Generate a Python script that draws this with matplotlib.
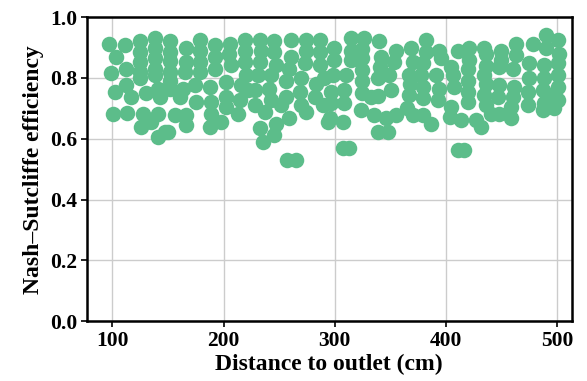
import numpy as np
import matplotlib
matplotlib.use("Agg")
import matplotlib.pyplot as plt

# Distance to outlet (cm) and Nash-Sutcliffe efficiency for each sample
distance = [
    96.6, 103.4, 98.4, 102.0, 100.4,
    111.5, 112.4, 112.4, 113.3, 116.9,
    124.4, 124.4, 124.4, 124.4, 125.0, 127.4, 125.9, 130.4,
    137.9, 137.9, 137.9, 137.9, 137.9, 140.9, 142.4, 140.9, 134.9, 140.9, 146.9,
    151.5, 151.5, 151.5, 151.5, 152.0, 152.0, 149.9, 155.9,
    166.3, 166.3, 163.3, 160.4, 166.3, 166.3, 165.0,
    178.3, 178.3, 178.3, 178.3, 173.9, 175.3,
    191.8, 191.8, 191.8, 187.3, 188.8, 188.8, 187.3, 197.8,
    205.3, 206.7, 202.2, 202.2, 202.2, 212.8, 215.7, 214.3, 205.0,
    218.8, 218.8, 218.8, 220.0, 222.0,
    232.3, 233.7, 232.3, 230.7, 227.8, 227.8, 236.8, 232.3, 235.3,
    256.8, 264.9,
    245.7, 245.7, 247.2, 242.7, 241.2, 242.7, 247.2, 245.7,
    260.6, 260.6, 259.2, 256.2, 256.2, 259.2, 251.7,
    274.1, 274.1, 272.7, 269.6, 268.2, 269.6, 274.1, 281.7, 283.1,
    286.2, 286.2, 286.2, 289.1, 293.6, 290.0,
    299.6, 299.6, 298.1, 296.6, 296.6, 295.2,
    307.1, 313.1,
    314.6, 314.6, 314.6, 310.1, 308.6, 308.6, 307.1,
    326.6, 324.2, 324.2, 324.2, 324.2, 324.2, 323.5, 335.6, 332.5,
    340.1, 341.5, 338.5, 346.0, 338.5, 347.5, 338.5, 341.0,
    355.0, 353.5, 349.1, 350.5, 355.0,
    368.5, 370.0, 367.0, 367.0, 370.0, 368.0, 365.0,
    382.0, 382.0, 379.0, 377.4, 379.0, 379.0, 379.0, 386.4,
    394.0, 395.4, 390.9, 394.0, 392.5,
    404.4, 403.3, 404.4, 407.5, 410.4, 416.4, 410.4, 406.0,
    420.9, 420.9, 419.3, 419.3, 419.3, 419.3, 413.4, 426.9, 431.4,
    434.4, 434.4, 434.4, 436.0, 436.0, 436.0, 436.0, 440.0,
    449.3, 449.3, 447.9, 447.9, 446.4, 447.9, 458.3,
    462.8, 462.8, 459.9, 461.4, 459.9, 458.3,
    477.8, 474.9, 474.9, 473.3, 473.3,
    489.8, 489.8, 488.3, 488.3, 486.8, 488.3, 486.8,
    500.3, 501.8, 500.3, 500.3, 500.3, 500.3, 497.3, 494.3,
]
nse = [
    0.913, 0.870, 0.815, 0.754, 0.683,
    0.910, 0.830, 0.776, 0.686, 0.738,
    0.920, 0.886, 0.853, 0.820, 0.800, 0.683, 0.640, 0.749,
    0.930, 0.900, 0.866, 0.830, 0.810, 0.765, 0.738, 0.683, 0.656, 0.606, 0.623,
    0.920, 0.886, 0.855, 0.820, 0.790, 0.765, 0.623, 0.678,
    0.900, 0.854, 0.765, 0.738, 0.678, 0.645, 0.820,
    0.924, 0.890, 0.854, 0.820, 0.776, 0.720,
    0.908, 0.870, 0.830, 0.770, 0.720, 0.683, 0.640, 0.656,
    0.913, 0.842, 0.787, 0.738, 0.705, 0.683, 0.776, 0.727, 0.880,
    0.924, 0.890, 0.853, 0.810, 0.760,
    0.924, 0.890, 0.853, 0.810, 0.760, 0.710, 0.689, 0.634, 0.590,
    0.530, 0.530,
    0.920, 0.886, 0.842, 0.810, 0.765, 0.727, 0.650, 0.612,
    0.924, 0.870, 0.830, 0.790, 0.738, 0.667, 0.710,
    0.924, 0.890, 0.848, 0.800, 0.754, 0.710, 0.689, 0.738, 0.780,
    0.924, 0.886, 0.842, 0.710, 0.656, 0.800,
    0.900, 0.858, 0.810, 0.754, 0.716, 0.667,
    0.568, 0.568,
    0.930, 0.890, 0.860, 0.810, 0.760, 0.716, 0.656,
    0.930, 0.896, 0.864, 0.827, 0.790, 0.750, 0.694, 0.678, 0.738,
    0.920, 0.870, 0.800, 0.667, 0.623, 0.623, 0.740, 0.835,
    0.890, 0.853, 0.810, 0.760, 0.678,
    0.900, 0.853, 0.810, 0.743, 0.678, 0.780, 0.700,
    0.924, 0.886, 0.848, 0.810, 0.770, 0.733, 0.678, 0.650,
    0.890, 0.864, 0.810, 0.765, 0.727,
    0.836, 0.672, 0.705, 0.770, 0.563, 0.563, 0.890, 0.810,
    0.900, 0.860, 0.830, 0.790, 0.754, 0.720, 0.661, 0.661, 0.640,
    0.897, 0.810, 0.743, 0.880, 0.840, 0.780, 0.710, 0.680,
    0.890, 0.860, 0.836, 0.776, 0.738, 0.683, 0.667,
    0.913, 0.875, 0.830, 0.770, 0.738, 0.705,
    0.913, 0.848, 0.800, 0.754, 0.710,
    0.940, 0.897, 0.842, 0.800, 0.760, 0.716, 0.694,
    0.924, 0.880, 0.848, 0.810, 0.770, 0.727, 0.700, 0.743,
]

x_ticks = [100, 200, 300, 400, 500]
y_ticks = [0.0, 0.2, 0.4, 0.6, 0.8, 1.0]

plt.rcParams["font.family"] = ["Liberation Serif", "DejaVu Serif"]
plt.rcParams["font.weight"] = "bold"

fig = plt.figure(figsize=(5.87, 3.81), dpi=100)
ax = fig.add_axes([0.148, 0.157, 0.826, 0.798])

ax.scatter(distance, nse, s=125, color="#5cbd8a", linewidths=0, zorder=3)

ax.set_xlim(77, 513)
ax.set_ylim(0, 1.0)
ax.set_xticks(x_ticks)
ax.set_yticks(y_ticks)
ax.set_yticklabels([f"{v:.1f}" for v in y_ticks])
ax.grid(True, color="#cccccc", linewidth=1.0, zorder=0)
ax.set_axisbelow(True)

for sp in ax.spines.values():
    sp.set_linewidth(1.8)
    sp.set_color("black")

ax.tick_params(labelsize=15.5, width=1.2, length=4, pad=3)
for lab in ax.get_xticklabels() + ax.get_yticklabels():
    lab.set_fontweight("bold")

ax.set_xlabel("Distance to outlet (cm)", fontsize=17, fontweight="bold", labelpad=2)
ax.set_ylabel("Nash\u2013Sutcliffe efficiency", fontsize=17, fontweight="bold", labelpad=4)

fig.savefig("out.png", dpi=100)
